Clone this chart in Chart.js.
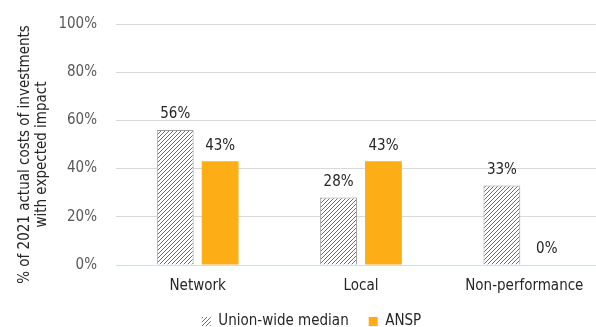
<!DOCTYPE html>
<html>
<head>
<meta charset="utf-8">
<script src="https://cdn.jsdelivr.net/npm/chart.js@4/dist/chart.umd.min.js"></script>
<style>
  html, body { margin: 0; padding: 0; background: #fff; overflow: hidden; }
  #wrap { width: 606px; height: 343px; margin-top: -4px; }
</style>
</head>
<body>
<div id="wrap"><canvas id="chart"></canvas></div>
<script>
// Data
const categories = ['Network', 'Local', 'Non-performance'];
const unionMedian = [56, 28, 33];
const ansp = [43, 43, 0];
const yTicks = [0, 20, 40, 60, 80, 100];
const yTitle = ['% of 2021 actual costs of investments', 'with expected impact'];

const FONT = "'DejaVu Sans Condensed', 'DejaVu Sans', sans-serif";

// Diagonal hatch pattern for the Union-wide median bars
function makeHatch(bg) {
    const c = document.createElement('canvas');
    c.width = 4; c.height = 4;
    const ctx = c.getContext('2d');
    ctx.fillStyle = bg;
    ctx.fillRect(0, 0, 4, 4);
    ctx.strokeStyle = '#6f6f6f';
    ctx.lineWidth = 1;
    ctx.beginPath();
    ctx.moveTo(0, 4); ctx.lineTo(4, 0);
    ctx.moveTo(-1, 1); ctx.lineTo(1, -1);
    ctx.moveTo(3, 5); ctx.lineTo(5, 3);
    ctx.stroke();
    return ctx.createPattern(c, 'repeat');
}
const hatch = makeHatch('#ffffff');

// Value labels above bars
const valueLabels = {
    id: 'valueLabels',
    afterDatasetsDraw(chart) {
        const ctx = chart.ctx;
        ctx.save();
        ctx.font = '15px ' + FONT;
        ctx.fillStyle = '#262626';
        ctx.textAlign = 'center';
        ctx.textBaseline = 'bottom';
        chart.data.datasets.forEach((ds, i) => {
            chart.getDatasetMeta(i).data.forEach((bar, j) => {
                ctx.fillText(ds.data[j] + '%', bar.x, bar.y - 8);
            });
        });
        ctx.restore();
    }
};

// Rotated y-axis title, sitting a little below the plot's middle like the original
const axisTitle = {
    id: 'axisTitle',
    afterDraw(chart) {
        const ctx = chart.ctx;
        const area = chart.chartArea;
        const cy = (area.top + area.bottom) / 2 + 10;
        ctx.save();
        ctx.font = '15px ' + FONT;
        ctx.fillStyle = '#262626';
        ctx.textAlign = 'center';
        ctx.textBaseline = 'middle';
        ctx.translate(25, cy);
        ctx.rotate(-Math.PI / 2);
        yTitle.forEach((line, i) => ctx.fillText(line, 0, i * 17));
        ctx.restore();
    }
};

new Chart(document.getElementById('chart'), {
    type: 'bar',
    data: {
        labels: categories,
        datasets: [
            {
                label: 'Union-wide median',
                data: unionMedian,
                backgroundColor: hatch,
                borderColor: '#9a9a9a',
                borderWidth: 1,
                categoryPercentage: 0.55,
                barPercentage: 0.82
            },
            {
                label: 'ANSP',
                data: ansp,
                backgroundColor: '#fdae17',
                borderWidth: 0,
                categoryPercentage: 0.55,
                barPercentage: 0.82
            }
        ]
    },
    options: {
        responsive: true,
        maintainAspectRatio: false,
        animation: false,
        layout: { padding: { top: 5, right: 0, left: 17, bottom: 0 } },
        plugins: {
            legend: {
                position: 'bottom',
                labels: {
                    font: { family: FONT, size: 15 },
                    color: '#262626',
                    boxWidth: 9,
                    boxHeight: 9,
                    padding: 20,
                    generateLabels(chart) {
                        const items = Chart.defaults.plugins.legend.labels.generateLabels(chart);
                        items.forEach(it => { it.lineWidth = 0; });
                        return items;
                    }
                }
            },
            tooltip: { enabled: false }
        },
        scales: {
            x: {
                grid: { display: false, drawTicks: false },
                border: { color: '#d0dcef' },
                ticks: {
                    font: { family: FONT, size: 15 },
                    color: '#262626',
                    padding: 12
                },
                afterFit(scale) { scale.height = 29; }
            },
            y: {
                min: 0,
                max: 100,
                afterBuildTicks(axis) {
                    axis.ticks = yTicks.map(v => ({ value: v }));
                },
                grid: { color: '#d9d9d9', drawTicks: false },
                border: { display: false },
                ticks: {
                    font: { family: FONT, size: 15 },
                    color: '#595959',
                    padding: 19,
                    callback: v => v + '%'
                },
                afterFit(scale) { scale.width = 99; }
            }
        }
    },
    plugins: [valueLabels, axisTitle]
});
</script>
</body>
</html>
